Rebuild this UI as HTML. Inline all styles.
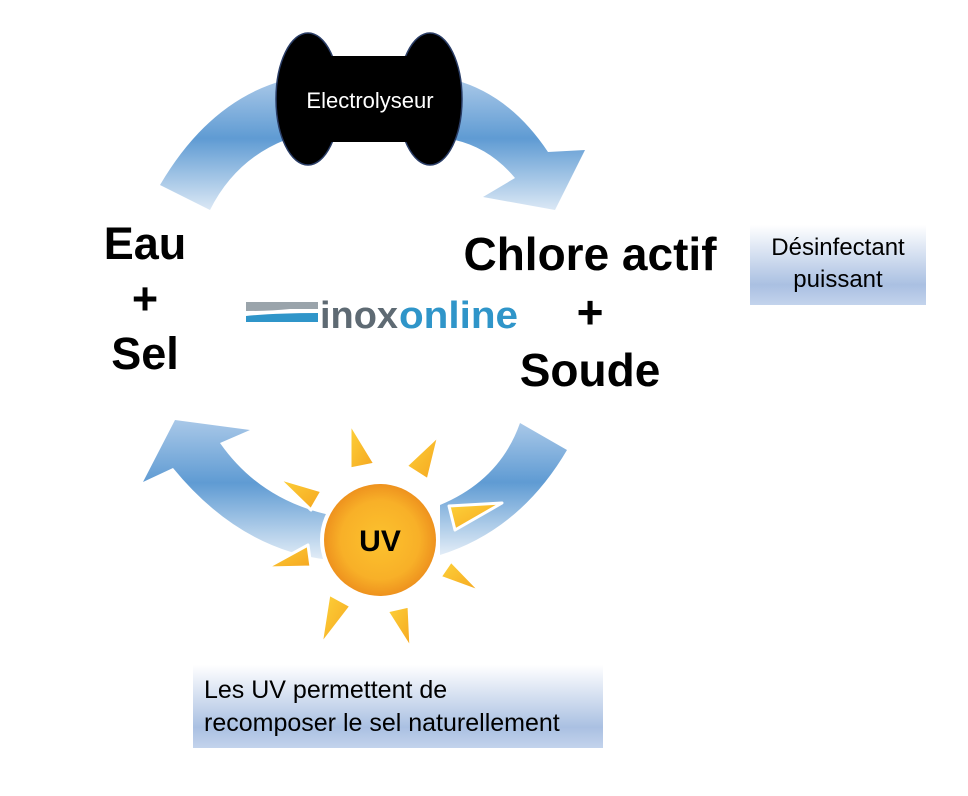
<!DOCTYPE html>
<html><head><meta charset="utf-8"><style>
html,body{margin:0;padding:0;background:#fff;}
body{width:968px;height:796px;position:relative;overflow:hidden;font-family:"Liberation Sans",sans-serif;}
.t{position:absolute;font-weight:bold;color:#000;text-align:center;}
</style></head><body>
<svg width="968" height="796" style="position:absolute;left:0;top:0">
<defs>
<linearGradient id="bt" x1="0" y1="0" x2="0" y2="1">
<stop offset="0" stop-color="#a9c8e8"/><stop offset="0.45" stop-color="#5f9bd3"/><stop offset="1" stop-color="#dbe8f5"/></linearGradient>
<linearGradient id="bb" x1="0" y1="0" x2="0" y2="1">
<stop offset="0" stop-color="#a9c8e8"/><stop offset="0.45" stop-color="#5f9bd3"/><stop offset="1" stop-color="#e3edf7"/></linearGradient>
<linearGradient id="box" x1="0" y1="0" x2="0" y2="1">
<stop offset="0" stop-color="#ffffff"/><stop offset="0.75" stop-color="#aac0e2"/><stop offset="1" stop-color="#c3d3ec"/></linearGradient>
<radialGradient id="sun" cx="0.5" cy="0.5" r="0.5">
<stop offset="0" stop-color="#fcc22e"/><stop offset="0.7" stop-color="#f8b028"/><stop offset="1" stop-color="#ee921e"/></radialGradient>
<linearGradient id="ray" x1="0" y1="0" x2="1" y2="1">
<stop offset="0" stop-color="#fdd23a"/><stop offset="1" stop-color="#f5a51f"/></linearGradient>
</defs>
<path d="M160,185 Q210,100 285,80 L285,140 Q235,160 210,210 Z" fill="url(#bt)"/>
<path d="M455,80 Q510,95 548,152 L585,150 L555,210 L483,197 L515,178 Q490,148 455,140 Z" fill="url(#bt)"/>
<g fill="#000" stroke="#2a3d66" stroke-width="1.5">
<ellipse cx="308" cy="99" rx="32" ry="66"/>
<ellipse cx="430" cy="99" rx="32" ry="66"/>
</g>
<rect x="300" y="56" width="138" height="86" fill="#000"/>
<text x="370" y="108" fill="#fff" font-family="Liberation Sans, sans-serif" font-size="22" text-anchor="middle">Electrolyseur</text>
<path d="M143,482 L175,420 L250,430 L220,443 Q260,500 330,515 L330,560 Q240,550 173,468 Z" fill="url(#bb)"/>
<path d="M520,423 L567,450 Q520,530 440,555 L440,505 Q500,480 520,423 Z" fill="url(#bb)"/>
<g fill="url(#ray)" stroke="#fff" stroke-width="3" stroke-linejoin="round">
<polygon points="350,423 375,464 350,469"/>
<polygon points="439,435 428,480 406,466"/>
<polygon points="278,478 322,491 311,510"/>
<polygon points="502,503 455,530 449,506"/>
<polygon points="266,568 308,545 311,567"/>
<polygon points="481,592 440,577 451,561"/>
<polygon points="321,645 351,606 329,594"/>
<polygon points="411,649 409,606 387,611"/>
</g>
<circle cx="380" cy="540" r="60" fill="#fff"/>
<circle cx="380" cy="540" r="56" fill="url(#sun)"/>
<text x="380" y="551" font-family="Liberation Sans, sans-serif" font-weight="bold" font-size="30" text-anchor="middle" fill="#000">UV</text>
<path d="M246,302 L318,302 L318,309 L290,309 Q270,311 246,311 Z" fill="#9aa4ab"/>
<path d="M246,316 Q275,313 318,313 L318,322 L246,322 Z" fill="#2f95c9"/>
<text x="320" y="328" font-family="Liberation Sans, sans-serif" font-weight="bold" font-size="38" fill="#5e6a73" textLength="78" lengthAdjust="spacingAndGlyphs">inox</text>
<text x="399" y="328" font-family="Liberation Sans, sans-serif" font-weight="bold" font-size="38" fill="#2f95c9" textLength="119" lengthAdjust="spacingAndGlyphs">online</text>
<rect x="750" y="225" width="176" height="80" fill="url(#box)"/>
<rect x="193" y="665" width="410" height="83" fill="url(#box)"/>
</svg>
<div class="t" style="left:90px;top:216px;width:110px;font-size:45px;line-height:55px;">Eau<br>+<br>Sel</div>
<div class="t" style="left:440px;top:225px;width:300px;font-size:46px;line-height:58px;">Chlore actif<br>+<br>Soude</div>
<div style="position:absolute;left:740px;top:232px;width:196px;text-align:center;font-size:24px;line-height:32px;">Désinfectant<br>puissant</div>
<div style="position:absolute;left:204px;top:674px;font-size:25px;line-height:33px;white-space:nowrap;">Les UV permettent de<br>recomposer le sel naturellement</div>
</body></html>
